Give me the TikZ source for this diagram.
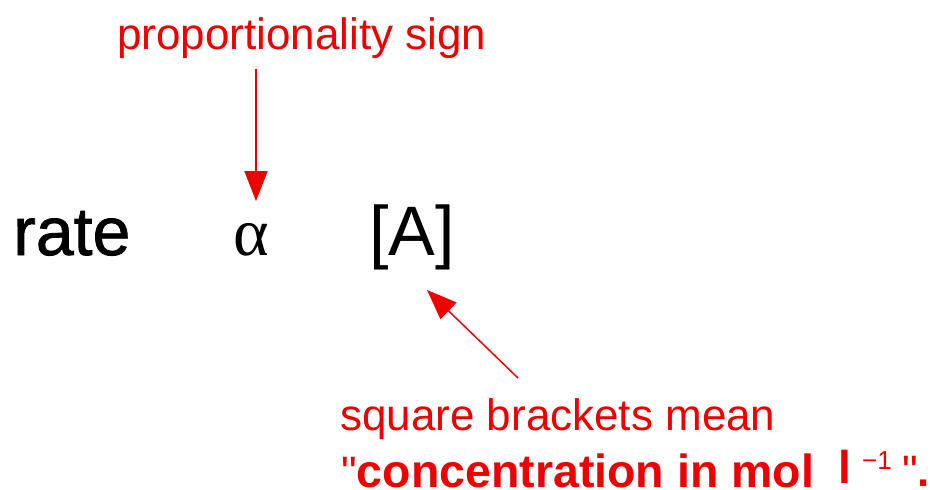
\documentclass[tikz,border=0pt]{standalone}
\usepackage{fontspec}
\setmainfont{Liberation Sans}
\newfontfamily\greekfont{Liberation Serif}
\newfontfamily\plainfont{Liberation Sans}[Ligatures=TeXOff]
\newfontfamily\ratefont{Liberation Sans}[FakeBold=1.2]
\usetikzlibrary{arrows.meta}
\definecolor{labelred}{RGB}{238,0,0}
\tikzset{
  txt/.style={inner sep=0pt, anchor=base west},
  redtxt/.style={txt, text=labelred},
  pointer/.style={draw=labelred, -{Triangle[length=30pt,width=23pt]}},
}
\begin{document}
\begin{tikzpicture}[x=1pt,y=-1pt]
\useasboundingbox (0,0) rectangle (932,490);
% label top
\node[redtxt, font=\fontsize{44}{50}\selectfont] (prop) at (117,49) {proportionality sign};
% main expression
\node[txt, font=\ratefont\fontsize{68}{76}\selectfont] (rate) at (13,255) {rate};
\node[txt, font=\greekfont\fontsize{68}{76}\selectfont] (alpha) at (233,255) {α};
\node[txt, font=\fontsize{70}{78}\selectfont] (conc) at (369,255) {[A]};
% bottom label
\node[redtxt, font=\fontsize{44}{50}\selectfont] (sq) at (340,430) {square brackets mean};
\node[redtxt, font=\plainfont\fontsize{44}{50}\selectfont] (q1) at (341,487) {"};
\node[redtxt, font=\fontsize{46.5}{50}\selectfont\bfseries] (cmol) at (356.6,487) {concentration in mol};
\node[redtxt, font=\fontsize{46}{50}\selectfont\bfseries] (ell) at (838,483) {l};
\node[redtxt, font=\fontsize{26}{30}\selectfont] (inv) at (862,469) {−1};
\node[redtxt, font=\plainfont\fontsize{44}{50}\selectfont] (q2) at (902,486) {"\textbf{.}};
% arrows
\coordinate (p1) at (256,69);
\coordinate (p2) at (256,201);
\draw[pointer, line width=2pt] (p1) -- (p2);
\coordinate (s1) at (518,378);
\coordinate (s2) at (427,290);
\draw[pointer, line width=1.5pt] (s1) -- (s2);
\end{tikzpicture}
\end{document}
